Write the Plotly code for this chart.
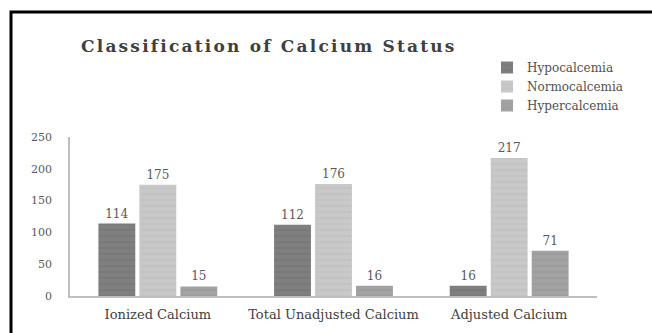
import plotly.graph_objects as go

categories = ["Ionized Calcium", "Total Unadjusted Calcium", "Adjusted Calcium"]
series_names = ["Hypocalcemia", "Normocalcemia", "Hypercalcemia"]
hypo = [114, 112, 16]
normo = [175, 176, 217]
hyper = [15, 16, 71]
y_ticks = [0, 50, 100, 150, 200, 250]

colors = ["#7f7f7f", "#c8c8c8", "#a2a2a2"]
stripe = ["#707070", "#bcbcbc", "#959595"]
SERIF = "DejaVu Serif, serif"

fig = go.Figure()
for name, vals, c, s in zip(series_names, [hypo, normo, hyper], colors, stripe):
    fig.add_trace(go.Bar(
        x=categories, y=vals, name=name,
        marker=dict(color=c, line=dict(width=0),
                    pattern=dict(shape="-", fgcolor=s, size=6, solidity=0.3, bgcolor=c)),
        text=[str(v) for v in vals], textposition="outside",
        textfont=dict(family=SERIF, size=12, color="#595959"),
        cliponaxis=False,
    ))

fig.update_layout(
    width=652, height=333,
    margin=dict(l=70, r=55, t=137, b=37),
    paper_bgcolor="white", plot_bgcolor="white",
    barmode="group", bargap=0.3, bargroupgap=0.1,
    title=dict(text="<b>Classification of Calcium Status</b>",
               font=dict(family="DejaVu Serif, serif", size=17, color="#404040"),
               xref="container", x=81/652, xanchor="left",
               yref="container", y=1 - 46/333, yanchor="middle"),
    legend=dict(x=(487-70)/527, y=(296-53)/159, xanchor="left", yanchor="top",
                font=dict(family=SERIF, size=12, color="#505050"),
                bgcolor="rgba(0,0,0,0)", tracegroupgap=0, itemwidth=30),
    xaxis=dict(showline=True, linecolor="#bfbfbf", linewidth=1.5, ticks="",
               showgrid=False, ticklabelstandoff=6,
               tickfont=dict(family=SERIF, size=13, color="#404040")),
    yaxis=dict(range=[0, 250], tickvals=y_ticks, showgrid=False, zeroline=False,
               showline=True, linecolor="#bfbfbf", linewidth=1.5, ticks="",
               ticklabelstandoff=14,
               tickfont=dict(family=SERIF, size=11, color="#595959")),
    shapes=[dict(type="rect", xref="paper", yref="paper",
                 x0=(11-70)/527, x1=1.3, y0=-0.6, y1=(296-12)/159,
                 line=dict(color="black", width=3), fillcolor="rgba(0,0,0,0)", layer="below")],
)

post = """
var gd = document.getElementById('{plot_id}');
gd.querySelectorAll('.gtitle').forEach(function(t){ t.style.letterSpacing = '2.2px'; });
"""
fig.write_html("out.html", post_script=post)
